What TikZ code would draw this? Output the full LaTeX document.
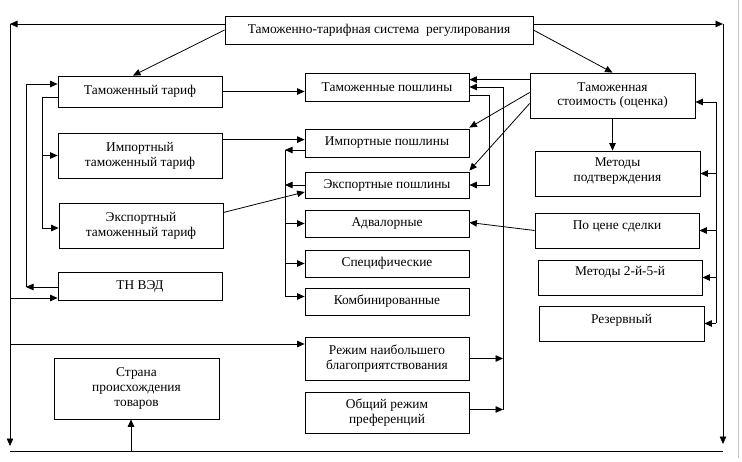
\documentclass[tikz,border=0pt]{standalone}
\usepackage{fontspec}
\setmainfont{Liberation Serif}
\usetikzlibrary{arrows.meta,calc}
\tikzset{
  box/.style={draw, line width=0.8pt, inner sep=0pt, align=center,
    font=\fontsize{13.4}{14.8}\selectfont},
  arr/.style={line width=0.8pt, -{Triangle[length=7.5pt,width=6.5pt]}},
  ln/.style={line width=0.8pt},
}
\begin{document}
\begin{tikzpicture}[x=1pt,y=-1pt]
\useasboundingbox (0,0) rectangle (742,462);
% boxes
\node[box, minimum width=308, minimum height=28] (top) at (379,30) {Таможенно-тарифная система~~регулирования};
\node[box, minimum width=164, minimum height=31] (tt) at (140,91.5) {Таможенный тариф};
\node[box, minimum width=164, minimum height=45] (itt) at (140,155.5) {Импортный\\таможенный тариф};
\node[box, minimum width=164, minimum height=45] (ett) at (141,225.5) {Экспортный\\таможенный тариф};
\node[box, minimum width=164, minimum height=28] (tnved) at (140,286) {ТН ВЭД};
\node[box, minimum width=164, minimum height=28] (tp) at (387,87) {Таможенные пошлины};
\node[box, minimum width=164, minimum height=28] (ip) at (387,143) {Импортные пошлины};
\node[box, minimum width=164, minimum height=26] (ep) at (387,185) {Экспортные пошлины};
\node[box, minimum width=164, minimum height=27] (adv) at (387,223.5) {Адвалорные};
\node[box, minimum width=164, minimum height=27] (spec) at (387,263.5) {Специфические};
\node[box, minimum width=164, minimum height=27] (komb) at (387,301.5) {Комбинированные};
\node[box, minimum width=165, minimum height=45] (ts) at (612.5,95.5) {Таможенная\\стоимость (оценка)};
\node[box, minimum width=165, minimum height=45, text depth=8pt] (mp) at (617.5,173.5) {Методы\\подтверждения};
\node[box, minimum width=164, minimum height=35, text depth=10pt] (pcs) at (617,230.5) {По цене сделки};
\node[box, minimum width=164, minimum height=35, text depth=13pt] (m25) at (620,277.5) {Методы 2-й-5-й};
\node[box, minimum width=165, minimum height=35, text depth=10pt] (rez) at (621.5,323.5) {Резервный};
\node[box, minimum width=164, minimum height=43] (rnb) at (387,358.5) {Режим наибольшего\\благоприятствования};
\node[box, minimum width=164, minimum height=41] (orp) at (387,412.5) {Общий режим\\преференций};
\node[box, minimum width=165, minimum height=61] (strana) at (136.5,388.5) {Страна\\происхождения\\товаров};

% outer frame lines
\coordinate (LT) at (10,24);
\coordinate (LB) at (10,446);
\coordinate (RT) at (723,24);
\coordinate (RB) at (723,444);
\coordinate (BL) at (10,451);
\coordinate (BR) at (723,451);
\coordinate (BS) at (131,451);
\draw[arr] (top.west |- LT) -- (LT);
\draw[arr] (LT) -- (LB);
\draw[arr] (top.east |- RT) -- (RT);
\draw[arr] (RT) -- (RB);
\draw[ln] (BL) -- (BR);
\draw[arr] (BS) -- (BS |- strana.south);
\draw[gray!45, line width=0.8pt] (738,0) -- (738,458);

% top diagonals
\draw[arr] (top.west) -- ($(tt.north)+(-7,0)$);
\draw[arr] (top.east) -- (ts.north);

% left buses
\coordinate (A1) at (26,287);
\draw[arr] (tnved.west |- A1) -- (A1);
\draw[arr] (A1) |- ($(tt.west)+(0,-7.5)$);
\coordinate (B0) at (42,97);
\draw[arr] (tt.west |- B0) -- (B0) |- (itt.west);
\draw[arr] (B0) |- ($(ett.west)+(0,2.5)$);
\coordinate (C1) at (10,298);
\draw[arr] (C1) -- (C1 -| tnved.west);
\coordinate (C2) at (10,344);
\draw[arr] (C2) -- (C2 -| rnb.west);

% tariffs to duties
\draw[arr] (tt.east) -- (tt.east -| tp.west);
\coordinate (n1) at ($(itt.north east)+(0,7)$);
\draw[arr] (n1) -- (n1 -| ip.west);
\draw[arr] ($(ett.east)+(0,-13)$) -- ($(ep.west)+(0,7)$);

% middle bus
\coordinate (D1) at (285,150);
\draw[arr] (ip.west |- D1) -- (D1);
\draw[arr] (ep.west) -- (ep.west -| D1);
\draw[arr] (D1) |- (adv.west);
\draw[arr] (D1) |- (spec.west);
\draw[arr] (D1) |- ($(komb.west)+(0,-5)$);

% right of duties
\coordinate (E1) at ($(ts.north west)+(0,7)$);
\draw[arr] (E1) -- (E1 -| tp.east);
\coordinate (F1) at (503,0);
\draw[arr] (rnb.east) -- (rnb.east -| F1);
\coordinate (o1) at ($(orp.east)+(0,-3)$);
\draw[arr] (o1) -- (o1 -| F1);
\draw[arr] (o1 -| F1) |- (tp.east);
\coordinate (G1) at (489,0);
\coordinate (g0) at ($(tp.south east)+(0,-6)$);
\draw[arr] (g0) -- (g0 -| G1) |- (ep.east);
\draw[arr] ($(ts.west)+(0,-3)$) -- ($(ip.north east)+(0,-1)$);
\draw[arr] ($(ts.west)+(0,8)$) -- ($(ep.north east)+(0,-1)$);

% right column
\draw[arr] (ts.south) -- (ts.south |- mp.north);
\draw[arr] (pcs.west) -- ($(adv.east)+(0,-1)$);
\coordinate (H0) at (716,0);
\coordinate (h1) at ($(ts.east)+(0,6.5)$);
\draw[ln] (h1 -| H0) -- (rez.east -| H0);
\draw[arr] (h1 -| H0) -- (h1);
\draw[arr] (mp.east -| H0) -- (mp.east);
\draw[arr] (pcs.east -| H0) -- (pcs.east);
\draw[arr] (m25.east -| H0) -- (m25.east);
\draw[arr] (rez.east -| H0) -- (rez.east);
\end{tikzpicture}
\end{document}
